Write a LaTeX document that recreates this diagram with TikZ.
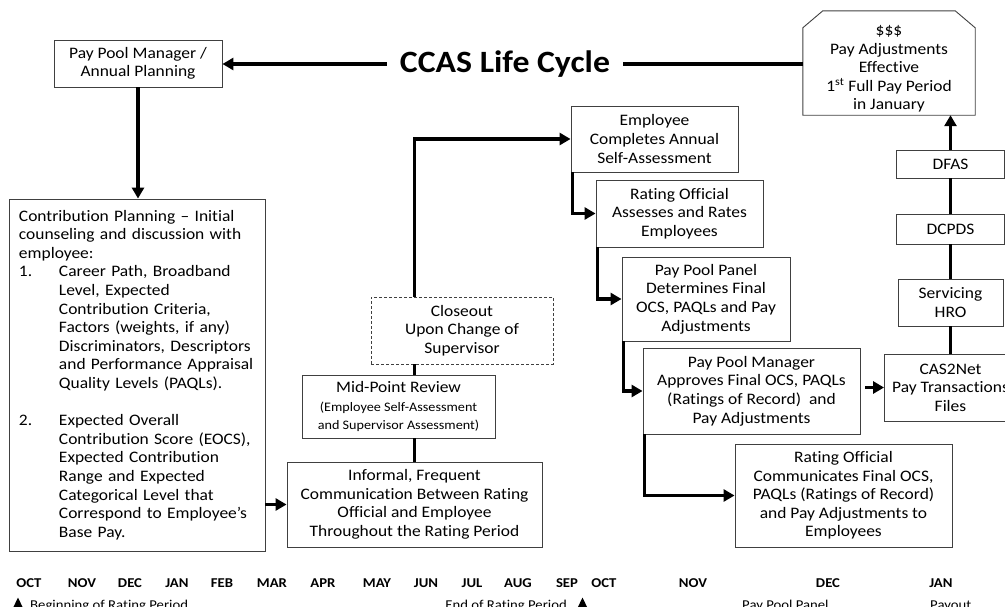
\documentclass[tikz,border=0pt]{standalone}
\usepackage{fontspec}
\setmainfont{Carlito}[FakeStretch=1.09, Ligatures={NoCommon}]
\usetikzlibrary{arrows.meta}
\newcommand{\mainfs}{\fontsize{16}{18.6}\selectfont}
\newcommand{\smallfs}{\fontsize{13}{18}\selectfont}
\newcommand{\monthfs}{\fontsize{13.5}{16}\selectfont\bfseries}
\newcommand{\notefs}{\fontsize{13.5}{16}\selectfont}
\begin{document}
\begin{tikzpicture}[x=1pt,y=-1pt,
  box/.style={draw=black!75, line width=0.9pt, fill=white, align=center, inner sep=0pt, font=\mainfs, text=black},
  dashbox/.style={box, dash pattern=on 3pt off 2pt},
  boxline/.style={draw=black!75, line width=0.9pt},
  thickline/.style={line width=3.6pt, black},
  conn/.style={thickline, -{Triangle[length=11pt,width=12pt]}},
  month/.style={anchor=base, font=\monthfs, inner sep=0pt},
  note/.style={font=\notefs, inner sep=0pt}]
\useasboundingbox (0,0) rectangle (1005,606);
\clip (0,0) rectangle (1005,606);

% top
\node[box, minimum width=168pt, minimum height=47pt] (ppm) at (138,63.5) {Pay Pool Manager /\\Annual Planning};
\node[font=\fontsize{31}{36}\selectfont\bfseries, inner xsep=13pt, inner ysep=2pt] (title) at (505,64) {CCAS Life Cycle};
\node[draw=none, minimum width=172pt, minimum height=104pt, inner sep=0pt] (ccas) at (889,63) {};
\draw[boxline] (ccas.south west) -- (ccas.south east) -- ([yshift=-17pt]ccas.north east) -- ([xshift=-20pt]ccas.north east) -- ([xshift=20pt]ccas.north west) -- ([yshift=-17pt]ccas.north west) -- cycle;
\node[align=center, font=\mainfs, inner sep=0pt] (ccastext) at (889,69) {\$\$\$\\Pay Adjustments\\Effective\\1\textsuperscript{st} Full Pay Period\\in January};

% left
\node[box, minimum width=256pt, minimum height=352pt, text width=236pt, align=left] (contrib) at (137,375) {Contribution Planning -- Initial\\
counseling and discussion with\\
employee:\\
\makebox[40pt][l]{1.}Career Path, Broadband\\
\hspace*{40pt}Level, Expected\\
\hspace*{40pt}Contribution Criteria,\\
\hspace*{40pt}Factors (weights, if any)\\
\hspace*{40pt}Discriminators, Descriptors\\
\hspace*{40pt}and Performance Appraisal\\
\hspace*{40pt}Quality Levels (PAQLs).\\
\mbox{}\\
\makebox[40pt][l]{2.}Expected Overall\\
\hspace*{40pt}Contribution Score (EOCS),\\
\hspace*{40pt}Expected Contribution\\
\hspace*{40pt}Range and Expected\\
\hspace*{40pt}Categorical Level that\\
\hspace*{40pt}Correspond to Employee’s\\
\hspace*{40pt}Base Pay.};

% middle
\node[box, minimum width=255pt, minimum height=85pt] (inf) at (414.5,504.5) {Informal, Frequent\\Communication Between Rating\\Official and Employee\\Throughout the Rating Period};
\node[box, minimum width=193pt, minimum height=63pt] (mid) at (398.5,406.5) {Mid-Point Review\\\smallfs(Employee Self-Assessment\\\smallfs and Supervisor Assessment)};
\node[dashbox, minimum width=182pt, minimum height=67pt] (close) at (462,330.5) {Closeout\\Upon Change of\\Supervisor};

% right cascade
\node[box, minimum width=167pt, minimum height=66pt] (emp) at (654.5,139) {Employee\\Completes Annual\\Self-Assessment};
\node[box, minimum width=167pt, minimum height=67pt] (rat) at (679.5,213.5) {Rating Official\\Assesses and Rates\\Employees};
\node[box, minimum width=168pt, minimum height=84pt] (panel) at (706,299) {Pay Pool Panel\\Determines Final\\OCS, PAQLs and Pay\\Adjustments};
\node[box, minimum width=217pt, minimum height=86pt] (mgr) at (751.5,391) {Pay Pool Manager\\Approves Final OCS, PAQLs\\(Ratings of Record)\ \ and\\Pay Adjustments};
\node[box, minimum width=217pt, minimum height=103pt] (comm) at (843.5,495.5) {Rating Official\\Communicates Final OCS,\\PAQLs (Ratings of Record)\\and Pay Adjustments to\\Employees};

% far right column
\node[box, minimum width=132pt, minimum height=67pt] (cas) at (950.5,387.5) {CAS2Net\\Pay Transactions\\Files};
\node[box, minimum width=105pt, minimum height=47pt] (hro) at (950.5,302.5) {Servicing\\HRO};
\node[box, minimum width=108pt, minimum height=30pt] (dcpds) at (950.5,229) {DCPDS};
\node[box, minimum width=108pt, minimum height=28pt] (dfas) at (950.5,164) {DFAS};

% connectors
\draw[conn] (title.west) -- (title.west -| ppm.east);
\draw[thickline] (title.east) -- (title.east -| ccas.west);
\draw[conn] (ppm.south) -- (ppm.south |- contrib.north);
\draw[conn] (contrib.east |- inf.west) -- (inf.west);
\draw[thickline] (inf.north) -- (inf.north |- mid.south);
\draw[thickline] (mid.north -| inf.north) -- (close.south -| inf.north);
\draw[conn] (close.north -| inf.north) |- (emp.west);
\draw[conn] ([xshift=2pt]emp.south west) |- (rat.west);
\draw[conn] ([xshift=2pt]rat.south west) |- (panel.west);
\draw[conn] ([xshift=2pt]panel.south west) |- (mgr.west);
\draw[conn] ([xshift=2pt]mgr.south west) |- (comm.west);
\draw[conn] ([xshift=5pt]mgr.east |- cas.west) -- (cas.west);
\draw[thickline] (cas.north) -- (hro.south);
\draw[thickline] (hro.north) -- (dcpds.south);
\draw[thickline] (dcpds.north) -- (dfas.south);
\draw[conn] (dfas.north) -- (dfas.north |- ccas.south);

% timeline
\node[month] (m1) at (29,587) {OCT};
\node[month] (m2) at (82,587) {NOV};
\node[month] (m3) at (130,587) {DEC};
\node[month] (m4) at (177,587) {JAN};
\node[month] (m5) at (222,587) {FEB};
\node[month] (m6) at (272,587) {MAR};
\node[month] (m7) at (323,587) {APR};
\node[month] (m8) at (377,587) {MAY};
\node[month] (m9) at (426,587) {JUN};
\node[month] (m10) at (472,587) {JUL};
\node[month] (m11) at (518,587) {AUG};
\node[month] (m12) at (567,587) {SEP};
\node[month] (m13) at (604,587) {OCT};
\node[month] (m14) at (693,587) {NOV};
\node[month] (m15) at (828,587) {DEC};
\node[month] (m16) at (941,587) {JAN};
\fill (12.5,609) -- (23.5,609) -- (18,597.5) -- cycle;
\fill (577,609) -- (588,609) -- (582.5,597.5) -- cycle;
\node[note, anchor=base west] (n1) at (30,609.5) {Beginning of Rating Period};
\node[note, anchor=base east] (n2) at (567,609.5) {End of Rating Period};
\node[note, anchor=base west] (n3) at (742,609.5) {Pay Pool Panel};
\node[note, anchor=base west] (n4) at (930,609.5) {Payout};
\end{tikzpicture}
\end{document}
